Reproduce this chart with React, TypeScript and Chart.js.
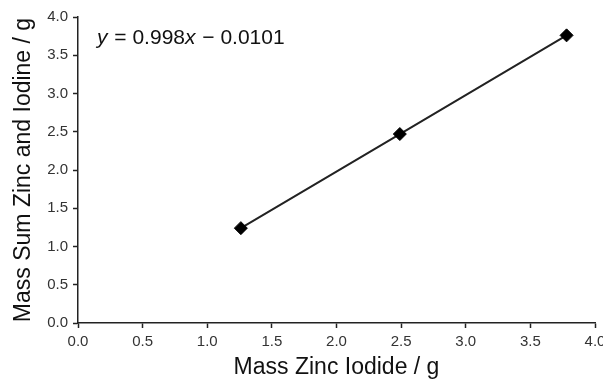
import React, { useEffect, useRef } from "react";
import { Chart, registerables } from "chart.js";

Chart.register(...registerables);

const massZincIodide = [1.26, 2.49, 3.78];
const massSumZincIodine = [1.24, 2.47, 3.76];
const xTicks = [0, 0.5, 1, 1.5, 2, 2.5, 3, 3.5, 4];
const yTicks = [0, 0.5, 1, 1.5, 2, 2.5, 3, 3.5, 4];
const slopeText = "0.998";
const interceptText = "0.0101";
const xTitle = "Mass Zinc Iodide / g";
const yTitle = "Mass Sum Zinc and Iodine / g";

const FONT = "'Liberation Sans', Arial, Helvetica, sans-serif";
const DARK = "#222222";

const equationPlugin = {
  id: "equation",
  afterDraw(chart: any) {
    const { ctx, chartArea } = chart;
    ctx.save();
    ctx.fillStyle = "#111111";
    ctx.textBaseline = "alphabetic";
    ctx.textAlign = "left";
    let x = chartArea.left + 19;
    const y = chartArea.top + 27;
    const parts: [string, boolean][] = [
      ["y", true],
      [" = " + slopeText, false],
      ["x", true],
      [" \u2212 " + interceptText, false],
    ];
    for (const [t, it] of parts) {
      ctx.font = (it ? "italic " : "") + "21px " + FONT;
      ctx.fillText(t, x, y);
      x += ctx.measureText(t).width + (it ? 1 : 0);
    }
    ctx.restore();
  },
};

export default function App() {
  const ref = useRef<HTMLCanvasElement | null>(null);
  useEffect(() => {
    if (!ref.current) return;
    const points = massZincIodide.map((x, i) => ({ x, y: massSumZincIodine[i] }));
    const chart = new Chart(ref.current, {
      type: "scatter",
      data: {
        datasets: [
          {
            data: points,
            showLine: true,
            borderColor: DARK,
            borderWidth: 2,
            pointStyle: "rectRot",
            pointRadius: 6.5,
            pointBackgroundColor: "#000000",
            pointBorderColor: "#000000",
            pointBorderWidth: 1,
          },
        ],
      },
      options: {
        responsive: false,
        animation: false,
        events: [],
        layout: { padding: { top: 17, right: 8, left: 0, bottom: 0 } },
        plugins: { legend: { display: false }, tooltip: { enabled: false } },
        scales: {
          x: {
            type: "linear",
            min: 0,
            max: 4,
            afterBuildTicks: (s: any) => {
              s.ticks = xTicks.map((v) => ({ value: v }));
            },
            afterFit: (s: any) => {
              s.height = 56;
              s.paddingLeft = 0;
              s.paddingRight = 0;
            },
            ticks: {
              callback: (v: any) => Number(v).toFixed(1),
              font: { family: FONT, size: 15 },
              color: "#333333",
              padding: 5,
              maxRotation: 0,
              autoSkip: false,
            },
            grid: {
              drawOnChartArea: false,
              drawTicks: true,
              tickLength: 5,
              tickColor: DARK,
              tickWidth: 1.5,
            },
            border: { display: true, color: DARK, width: 1.5 },
            title: {
              display: true,
              text: xTitle,
              font: { family: FONT, size: 23, lineHeight: 1 },
              color: "#111111",
              padding: 0,
            },
          },
          y: {
            type: "linear",
            min: 0,
            max: 4,
            afterBuildTicks: (s: any) => {
              s.ticks = yTicks.map((v) => ({ value: v }));
            },
            afterFit: (s: any) => {
              s.width = 78;
              s.paddingTop = 0;
              s.paddingBottom = 0;
            },
            ticks: {
              callback: (v: any) => Number(v).toFixed(1),
              font: { family: FONT, size: 15 },
              color: "#333333",
              padding: 5,
              autoSkip: false,
            },
            grid: {
              drawOnChartArea: false,
              drawTicks: true,
              tickLength: 5,
              tickColor: DARK,
              tickWidth: 1.5,
            },
            border: { display: true, color: DARK, width: 1.5 },
            title: {
              display: true,
              text: yTitle,
              font: { family: FONT, size: 23, lineHeight: 1 },
              color: "#111111",
              padding: { top: 12, bottom: 0 },
            },
          },
        },
      },
      plugins: [equationPlugin],
    });
    return () => chart.destroy();
  }, []);
  return (
    <div style={{ position: "absolute", left: 0, top: 0, width: 603, height: 379, background: "#fff" }}>
      <canvas ref={ref} width={603} height={379} style={{ display: "block" }} />
    </div>
  );
}
